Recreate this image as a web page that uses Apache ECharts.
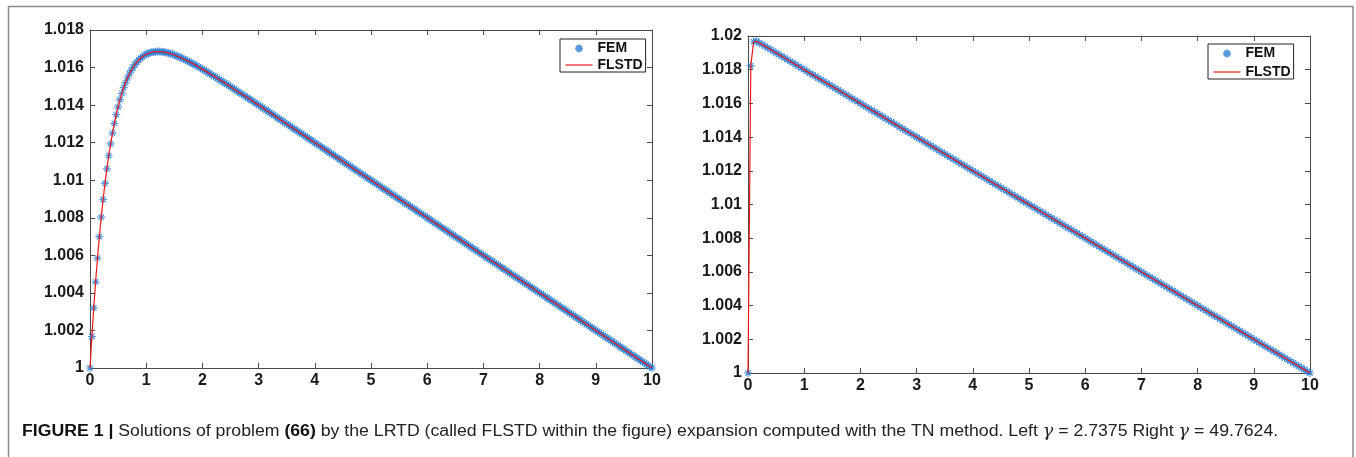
<!DOCTYPE html>
<html><head><meta charset="utf-8">
<script src="https://cdn.jsdelivr.net/npm/echarts@6/dist/echarts.min.js"></script>
<style>html,body{margin:0;padding:0;background:#fff}#c{width:1356px;height:457px}</style>
</head><body><div id="c"></div><script>
// ---- data ----
const xTicks = [0,1,2,3,4,5,6,7,8,9,10];
const leftStep = 1/30;   // FEM node spacing, left panel
const rightStep = 0.05;  // FEM node spacing, right panel
const femLeft = [
1.000000,1.001677,1.003203,1.004590,1.005849,1.006994,1.008032,1.008974,1.009829,1.010602,
1.011303,1.011937,1.012509,1.013026,1.013492,1.013911,1.014288,1.014627,1.014930,1.015201,
1.015443,1.015657,1.015846,1.016015,1.016162,1.016290,1.016402,1.016498,1.016579,1.016649,
1.016705,1.016751,1.016788,1.016815,1.016834,1.016847,1.016851,1.016849,1.016843,1.016830,
1.016813,1.016792,1.016767,1.016738,1.016706,1.016671,1.016632,1.016593,1.016549,1.016504,
1.016458,1.016409,1.016359,1.016308,1.016255,1.016201,1.016146,1.016090,1.016032,1.015975,
1.015916,1.015856,1.015797,1.015736,1.015675,1.015614,1.015552,1.015489,1.015427,1.015363,
1.015299,1.015236,1.015172,1.015107,1.015044,1.014979,1.014914,1.014849,1.014784,1.014718,
1.014653,1.01459,1.01452,1.01446,1.0144,1.01433,1.01427,1.0142,1.01413,1.01407,
1.014,1.01393,1.01387,1.0138,1.01373,1.01367,1.0136,1.01353,1.01347,1.0134,
1.01333,1.01327,1.0132,1.01313,1.01307,1.013,1.01293,1.01287,1.0128,1.01273,
1.01267,1.0126,1.01253,1.01247,1.0124,1.01233,1.01227,1.0122,1.01213,1.01207,
1.012,1.01193,1.01187,1.0118,1.01173,1.01167,1.0116,1.01153,1.01147,1.0114,
1.01133,1.01127,1.0112,1.01113,1.01107,1.011,1.01093,1.01087,1.0108,1.01073,
1.01067,1.0106,1.01053,1.01047,1.0104,1.01033,1.01027,1.0102,1.01013,1.01007,
1.01,1.00993,1.00987,1.0098,1.00973,1.00967,1.0096,1.00953,1.00947,1.0094,
1.00933,1.00927,1.0092,1.00913,1.00907,1.009,1.00893,1.00887,1.0088,1.00873,
1.00867,1.0086,1.00853,1.00847,1.0084,1.00833,1.00827,1.0082,1.00813,1.00807,
1.008,1.00793,1.00787,1.0078,1.00773,1.00767,1.0076,1.00753,1.00747,1.0074,
1.00733,1.00727,1.0072,1.00713,1.00707,1.007,1.00693,1.00687,1.0068,1.00673,
1.00667,1.0066,1.00653,1.00647,1.0064,1.00633,1.00627,1.0062,1.00613,1.00607,
1.006,1.00593,1.00587,1.0058,1.00573,1.00567,1.0056,1.00553,1.00547,1.0054,
1.00533,1.00527,1.0052,1.00513,1.00507,1.005,1.00493,1.00487,1.0048,1.00473,
1.00467,1.0046,1.00453,1.00447,1.0044,1.00433,1.00427,1.0042,1.00413,1.00407,
1.004,1.00393,1.00387,1.0038,1.00373,1.00367,1.0036,1.00353,1.00347,1.0034,
1.00333,1.00327,1.0032,1.00313,1.00307,1.003,1.00293,1.00287,1.0028,1.00273,
1.00267,1.0026,1.00253,1.00247,1.0024,1.00233,1.00227,1.0022,1.00213,1.00207,
1.002,1.00193,1.00187,1.0018,1.00173,1.00167,1.0016,1.00153,1.00147,1.0014,
1.00133,1.00127,1.0012,1.00113,1.00107,1.001,1.00093,1.00087,1.0008,1.00073,
1.00067,1.0006,1.00053,1.00047,1.0004,1.00033,1.00027,1.0002,1.00013,1.00007,
1.0
];
const flstdLeft = femLeft.slice();
const femRight = [
1.0,1.01824,1.01966,1.01969,1.0196,1.0195,1.0194,1.0193,1.0192,1.0191,
1.019,1.0189,1.0188,1.0187,1.0186,1.0185,1.0184,1.0183,1.0182,1.0181,
1.018,1.0179,1.0178,1.0177,1.0176,1.0175,1.0174,1.0173,1.0172,1.0171,
1.017,1.0169,1.0168,1.0167,1.0166,1.0165,1.0164,1.0163,1.0162,1.0161,
1.016,1.0159,1.0158,1.0157,1.0156,1.0155,1.0154,1.0153,1.0152,1.0151,
1.015,1.0149,1.0148,1.0147,1.0146,1.0145,1.0144,1.0143,1.0142,1.0141,
1.014,1.0139,1.0138,1.0137,1.0136,1.0135,1.0134,1.0133,1.0132,1.0131,
1.013,1.0129,1.0128,1.0127,1.0126,1.0125,1.0124,1.0123,1.0122,1.0121,
1.012,1.0119,1.0118,1.0117,1.0116,1.0115,1.0114,1.0113,1.0112,1.0111,
1.011,1.0109,1.0108,1.0107,1.0106,1.0105,1.0104,1.0103,1.0102,1.0101,
1.01,1.0099,1.0098,1.0097,1.0096,1.0095,1.0094,1.0093,1.0092,1.0091,
1.009,1.0089,1.0088,1.0087,1.0086,1.0085,1.0084,1.0083,1.0082,1.0081,
1.008,1.0079,1.0078,1.0077,1.0076,1.0075,1.0074,1.0073,1.0072,1.0071,
1.007,1.0069,1.0068,1.0067,1.0066,1.0065,1.0064,1.0063,1.0062,1.0061,
1.006,1.0059,1.0058,1.0057,1.0056,1.0055,1.0054,1.0053,1.0052,1.0051,
1.005,1.0049,1.0048,1.0047,1.0046,1.0045,1.0044,1.0043,1.0042,1.0041,
1.004,1.0039,1.0038,1.0037,1.0036,1.0035,1.0034,1.0033,1.0032,1.0031,
1.003,1.0029,1.0028,1.0027,1.0026,1.0025,1.0024,1.0023,1.0022,1.0021,
1.002,1.0019,1.0018,1.0017,1.0016,1.0015,1.0014,1.0013,1.0012,1.0011,
1.001,1.0009,1.0008,1.0007,1.0006,1.0005,1.0004,1.0003,1.0002,1.0001,
1.0
];
const flstdRight = femRight.slice();
const leftYMax = 1.018, rightYMax = 1.02, yInterval = 0.002;
const seriesNames = ['FEM','FLSTD'];
const captionText = '{b|FIGURE 1 |} Solutions of problem {b|(66)} by the LRTD (called FLSTD within the figure) expansion computed with the TN method. Left {i|γ} = 2.7375 Right {i|γ} = 49.7624.';

// ---- build ----
const pairs = (ys, step) => ys.map((v, i) => [i * step, v]);
const BLUE = '#2a7fd4', RED = '#f21818', AX = '#4a4a4a';
const ASTER = 'path://M0,5L10,5M5,0L5,10M1.6,1.6L8.4,8.4M8.4,1.6L1.6,8.4';
const LEG_ASTER = 'path://M0,0M27,14M9.5,7L17.5,7M13.5,3L13.5,11M10.7,4.2L16.3,9.8M16.3,4.2L10.7,9.8';
const LEG_LINE = 'path://M0,0M27,14M0,6.4L27,6.4L27,7.6L0,7.6Z';
const FONT = 'Liberation Sans';

function xAx(g, pos) {
  return {gridIndex:g, type:'value', min:0, max:10, interval:1, position:pos,
    axisLine:{show:true, onZero:false, lineStyle:{color:AX, width:1}},
    axisTick:{show:true, inside:true, length:5, lineStyle:{color:AX}},
    axisLabel:{show:pos==='bottom', margin:5, color:'#1a1a1a', fontSize:16, fontWeight:'bold', fontFamily:FONT},
    splitLine:{show:false}};
}
function yAx(g, pos, ymax) {
  return {gridIndex:g, type:'value', min:1, max:ymax, interval:yInterval, position:pos,
    axisLine:{show:true, onZero:false, lineStyle:{color:AX, width:1}},
    axisTick:{show:true, inside:true, length:5, lineStyle:{color:AX}},
    axisLabel:{show:pos==='left', margin:6, color:'#1a1a1a', fontSize:16, fontWeight:'bold', fontFamily:FONT,
      formatter: v => String(Number(v.toFixed(3)))},
    splitLine:{show:false}};
}
function legendAt(left, top, gap) {
  return {left, top, orient:'vertical', selectedMode:false,
    data:[{name:'FEM', icon:LEG_ASTER},{name:'FLSTD', icon:LEG_LINE, itemStyle:{color:RED, borderWidth:0}}],
    itemWidth:27, itemHeight:14, itemGap:gap, padding:[0,3,0,3],
    borderColor:'#222', borderWidth:1, backgroundColor:'#fff',
    textStyle:{fontSize:14, fontWeight:'bold', color:'#111', fontFamily:FONT}};
}
function seriesFor(idx, fem, fl, step) {
  return [
    {name:'FEM', type:'scatter', xAxisIndex:idx*2, yAxisIndex:idx*2, data:pairs(fem, step),
      symbol:ASTER, symbolSize:8, itemStyle:{color:'none', borderColor:BLUE, borderWidth:1.2},
      silent:true, z:2},
    {name:'FLSTD', type:'line', xAxisIndex:idx*2, yAxisIndex:idx*2, data:pairs(fl, step),
      symbol:'none', showSymbol:false, lineStyle:{color:RED, width:1.2}, itemStyle:{color:RED},
      silent:true, z:3}
  ];
}

const chart = echarts.init(document.getElementById('c'), null, {renderer:'canvas'});
chart.setOption({
  animation:false,
  backgroundColor:'#fff',
  grid:[{left:90, top:30, width:562, height:338}, {left:748, top:36, width:562, height:337}],
  xAxis:[xAx(0,'bottom'), xAx(0,'top'), xAx(1,'bottom'), xAx(1,'top')],
  yAxis:[yAx(0,'left',leftYMax), yAx(0,'right',leftYMax), yAx(1,'left',rightYMax), yAx(1,'right',rightYMax)],
  legend:[legendAt(560,39,0), legendAt(1208,44,2)],
  series:[...seriesFor(0, femLeft, flstdLeft, leftStep), ...seriesFor(1, femRight, flstdRight, rightStep)],
  graphic:[
    {type:'rect', silent:true, shape:{x:8.5, y:6.5, width:1344.5, height:480},
      style:{fill:'none', stroke:'#8c8c8c', lineWidth:1.5}, z:-1},
    {type:'text', left:22, top:424, silent:true, scaleX:1.105, originX:0,
      style:{text:captionText, fontSize:16, fontFamily:FONT, fill:'#222',
        rich:{b:{fontWeight:'bold', fontSize:16, fontFamily:FONT, fill:'#111'},
              i:{fontStyle:'italic', fontSize:16, fontFamily:'DejaVu Serif', fill:'#222'}}}}
  ]
});
</script></body></html>
